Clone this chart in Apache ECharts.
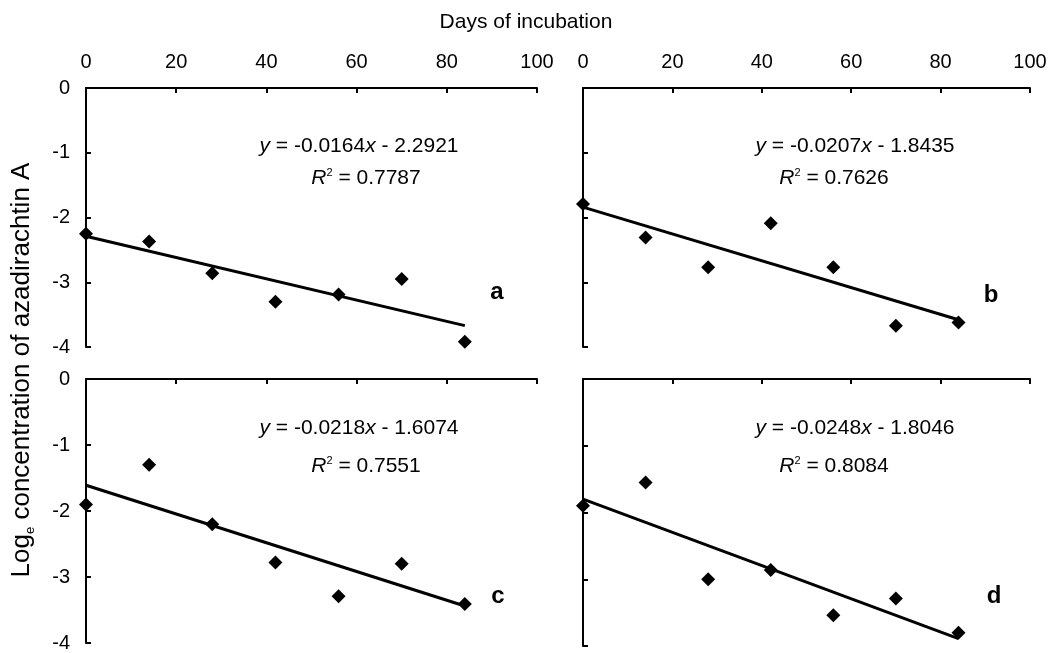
<!DOCTYPE html>
<html><head><meta charset="utf-8">
<script src="https://cdn.jsdelivr.net/npm/echarts@6/dist/echarts.min.js"></script>
<style>html,body{margin:0;padding:0;background:#fff}#c{width:1050px;height:653px}</style>
</head><body><div id="c"></div>
<script>
// ---- data ----
const days = [0, 14, 28, 42, 56, 70, 84];
const panelA = [-2.25, -2.37, -2.86, -3.30, -3.19, -2.95, -3.92];
const panelB = [-1.79, -2.31, -2.77, -2.09, -2.77, -3.67, -3.62];
const panelC = [-1.90, -1.30, -2.20, -2.78, -3.29, -2.80, -3.41];
const panelD = [-1.90, -1.55, -3.00, -2.86, -3.54, -3.29, -3.80];
const trendA = [[0, -2.29], [84, -3.67]];
const trendB = [[0, -1.84], [84, -3.58]];
const trendC = [[0, -1.61], [84, -3.44]];
const trendD = [[0, -1.80], [84, -3.89]];
const slopes = ['-0.0164', '-0.0207', '-0.0218', '-0.0248'];
const intercepts = ['2.2921', '1.8435', '1.6074', '1.8046'];
const r2 = ['0.7787', '0.7626', '0.7551', '0.8084'];
const letters = ['a', 'b', 'c', 'd'];
const xTitle = 'Days of incubation';
const yTitleParts = ['Log', 'e', ' concentration of azadirachtin A'];

// ---- layout ----
const FONT = 'Liberation Sans, Arial, sans-serif';
const grids = [
  {left: 86, top: 88, width: 451, height: 259},
  {left: 583, top: 88, width: 447, height: 259},
  {left: 86, top: 379, width: 451, height: 267},
  {left: 583, top: 379, width: 447, height: 267}
];
const panels = [panelA, panelB, panelC, panelD];
const trends = [trendA, trendB, trendC, trendD];

const axisLine = {show: true, onZero: false, lineStyle: {color: '#000', width: 2}};
const axisTick = {show: true, inside: true, length: 5, lineStyle: {color: '#000', width: 2}};

const xAxis = grids.map((g, i) => ({
  type: 'value', gridIndex: i, min: 0, max: 100, interval: 20, position: 'top',
  axisLine, axisTick, splitLine: {show: false},
  axisLabel: {show: i < 2, color: '#000', fontSize: 20, fontFamily: FONT, margin: 16}
}));
const yAxis = grids.map((g, i) => ({
  type: 'value', gridIndex: i, min: -4, max: 0, interval: 1,
  axisLine, axisTick, splitLine: {show: false},
  axisLabel: {show: i % 2 === 0, color: '#000', fontSize: 20, fontFamily: FONT, margin: 16}
}));

const series = [];
panels.forEach((vals, i) => {
  series.push({
    type: 'line', xAxisIndex: i, yAxisIndex: i, data: trends[i],
    symbol: 'none', lineStyle: {color: '#000', width: 3}, z: 2, animation: false
  });
  series.push({
    type: 'scatter', xAxisIndex: i, yAxisIndex: i,
    data: days.map((d, k) => [d, vals[k]]),
    symbol: 'diamond', symbolSize: [14, 14],
    itemStyle: {color: '#000', opacity: 1}, z: 3, animation: false
  });
});

const eqPos = [
  {x: 359, y: 146, rx: 366, ry: 178, lx: 497, ly: 292},
  {x: 855, y: 146, rx: 834, ry: 178, lx: 991, ly: 295},
  {x: 359, y: 428, rx: 366, ry: 466, lx: 498, ly: 596},
  {x: 855, y: 428, rx: 834, ry: 466, lx: 994, ly: 596}
];
const rich = {
  i: {fontStyle: 'italic', fontSize: 21, fontFamily: FONT, fill: '#000'},
  n: {fontSize: 21, fontFamily: FONT, fill: '#000'},
  s: {fontSize: 11, fontFamily: FONT, fill: '#000', verticalAlign: 'top', lineHeight: 22}
};
const graphic = [];
eqPos.forEach((p, i) => {
  graphic.push({
    type: 'text', x: p.x, y: p.y,
    style: {
      text: '{i|y}{n| = ' + slopes[i] + '}{i|x}{n| - ' + intercepts[i] + '}',
      rich, align: 'center', verticalAlign: 'middle'
    }
  });
  graphic.push({
    type: 'text', x: p.rx, y: p.ry,
    style: {
      text: '{i|R}{s|2}{n| = ' + r2[i] + '}',
      rich, align: 'center', verticalAlign: 'middle'
    }
  });
  graphic.push({
    type: 'text', x: p.lx, y: p.ly,
    style: {text: letters[i], fontSize: 24, fontWeight: 'bold', fontFamily: FONT, fill: '#000',
      align: 'center', verticalAlign: 'middle'}
  });
});
graphic.push({
  type: 'text', x: 526, y: 22,
  style: {text: xTitle, fontSize: 21, fontFamily: FONT, fill: '#000', align: 'center', verticalAlign: 'middle'}
});
graphic.push({
  type: 'text', x: 22, y: 370, rotation: Math.PI / 2,
  style: {
    text: '{n|' + yTitleParts[0] + '}{b|' + yTitleParts[1] + '}{n|' + yTitleParts[2] + '}',
    rich: {
      n: {fontSize: 26, fontFamily: FONT, fill: '#000', lineHeight: 30},
      b: {fontSize: 13, fontFamily: FONT, fill: '#000', verticalAlign: 'bottom', lineHeight: 30}
    },
    align: 'center', verticalAlign: 'middle'
  }
});

const chart = echarts.init(document.getElementById('c'), null, {renderer: 'canvas'});
chart.setOption({
  animation: false,
  backgroundColor: '#fff',
  grid: grids,
  xAxis, yAxis, series, graphic
});
</script>
</body></html>
